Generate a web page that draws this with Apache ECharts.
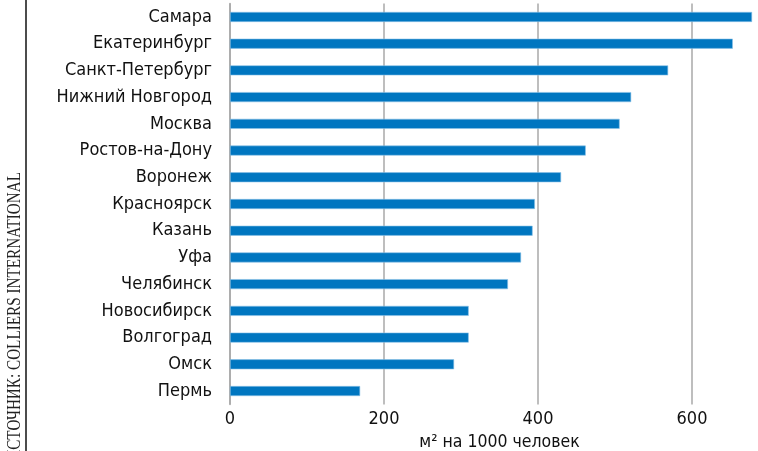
<!DOCTYPE html>
<html>
<head>
<meta charset="utf-8">
<script src="https://cdn.jsdelivr.net/npm/echarts@6/dist/echarts.min.js"></script>
<style>
  html, body { margin: 0; padding: 0; background: #fff; }
  #chart { width: 758px; height: 451px; }
</style>
</head>
<body>
<div id="chart"></div>
<script>
// города сверху вниз
const cities = [
  'Самара', 'Екатеринбург', 'Санкт-Петербург', 'Нижний Новгород', 'Москва',
  'Ростов-на-Дону', 'Воронеж', 'Красноярск', 'Казань', 'Уфа',
  'Челябинск', 'Новосибирск', 'Волгоград', 'Омск', 'Пермь'
];
// м² на 1000 человек
const values = [678, 653, 569, 521, 506, 462, 430, 396, 393, 378, 361, 310, 310, 291, 169];
const xTicks = [0, 200, 400, 600];

const labelFont = '"DejaVu Sans Condensed", sans-serif';
const gridColor = '#a9a9a9';

const chart = echarts.init(document.getElementById('chart'));

chart.setOption({
  animation: false,
  grid: {
    left: 230,
    width: 539,
    top: 3.6,
    bottom: 46.6,
    outerBoundsMode: 'none'
  },
  xAxis: {
    type: 'value',
    min: 0,
    max: 700,
    interval: 200,
    axisLine: { show: false },
    axisTick: { show: false },
    axisLabel: {
      color: '#111',
      fontFamily: labelFont,
      fontSize: 18,
      margin: 6,
      formatter: v => (xTicks.indexOf(v) >= 0 ? String(v) : '')
    },
    splitLine: {
      show: true,
      lineStyle: { color: gridColor, width: 1.5 }
    },
    name: 'м² на 1000 человек',
    nameLocation: 'middle',
    nameGap: 28,
    nameTextStyle: {
      color: '#111',
      fontFamily: labelFont,
      fontSize: 17.5,
      align: 'center'
    }
  },
  yAxis: {
    type: 'category',
    inverse: true,
    data: cities,
    axisLine: { show: true, lineStyle: { color: gridColor, width: 1.5 } },
    axisTick: { show: false },
    axisLabel: {
      color: '#111',
      fontFamily: labelFont,
      fontSize: 18,
      margin: 18
    }
  },
  series: [{
    type: 'bar',
    data: values,
    barWidth: 10,
    itemStyle: {
      color: '#0076c0',
      borderColor: '#8cc2e8',
      borderWidth: 0.6
    }
  }],
  graphic: [
    {
      type: 'line',
      shape: { x1: 26, y1: 0, x2: 26, y2: 451 },
      style: { stroke: '#111', lineWidth: 1.5 }
    },
    {
      type: 'text',
      x: 15,
      y: 172,
      rotation: Math.PI / 2,
      scaleX: 0.8,
      style: {
        text: 'ИСТОЧНИК: COLLIERS INTERNATIONAL',
        fill: '#222',
        font: '19px "Liberation Serif", "DejaVu Serif", serif',
        textAlign: 'right',
        textVerticalAlign: 'middle'
      }
    }
  ]
});
</script>
</body>
</html>
